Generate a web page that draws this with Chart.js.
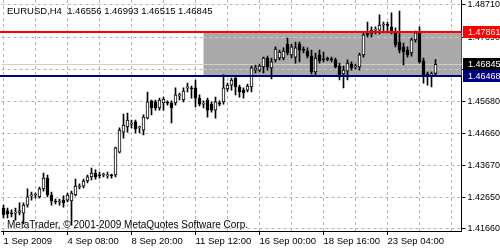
<!DOCTYPE html>
<html>
<head>
<meta charset="utf-8">
<script src="https://cdn.jsdelivr.net/npm/chart.js@4.4.0/dist/chart.umd.min.js"></script>
<style>
  html, body { margin: 0; padding: 0; background: #fff; }
  #wrap { width: 500px; height: 250px; }
</style>
</head>
<body>
<div id="wrap"><canvas id="chart"></canvas></div>
<script>
// ==========================================
// DATA (EURUSD H4)
// ==========================================
const titleText = 'EURUSD,H4  1.46556 1.46993 1.46515 1.46845';
const copyrightText = 'MetaTrader, \u00a9 2001-2009 MetaQuotes Software Corp.';

// one label every 16 bars
const xLabels = ['1 Sep 2009', '4 Sep 08:00', '8 Sep 20:00', '11 Sep 12:00', '16 Sep 00:00', '18 Sep 16:00', '23 Sep 04:00'];
const yTicks = [1.48710, 1.47690, 1.46680, 1.45680, 1.44660, 1.43670, 1.42650, 1.41660];

const opens = [
  1.4232, 1.4223, 1.4216, 1.4216, 1.4219, 1.4216, 1.4241, 1.4270, 1.4273, 1.4267,
  1.4292, 1.4326, 1.4273, 1.4254, 1.4251, 1.4257, 1.4257, 1.4254, 1.4273, 1.4298,
  1.4301, 1.4317, 1.4330, 1.4342, 1.4336, 1.4336, 1.4333, 1.4336, 1.4336, 1.4408,
  1.4471, 1.4487, 1.4496, 1.4503, 1.4484, 1.4477, 1.4515, 1.4569, 1.4566, 1.4547,
  1.4563, 1.4563, 1.4563, 1.4563, 1.4585, 1.4572, 1.4610, 1.4610, 1.4610, 1.4578,
  1.4559, 1.4572, 1.4559, 1.4540, 1.4563, 1.4566, 1.4607, 1.4619, 1.4641, 1.4613,
  1.4603, 1.4603, 1.4613, 1.4666, 1.4666, 1.4676, 1.4704, 1.4673, 1.4698, 1.4704,
  1.4704, 1.4748, 1.4714, 1.4707, 1.4748, 1.4729, 1.4726, 1.4710, 1.4660, 1.4714,
  1.4701, 1.4701, 1.4701, 1.4698, 1.4679, 1.4654, 1.4663, 1.4685, 1.4676, 1.4676,
  1.4714, 1.4783, 1.4780, 1.4792, 1.4792, 1.4808, 1.4808, 1.4802, 1.4786, 1.4754,
  1.4739, 1.4729, 1.4720, 1.4761, 1.4783, 1.4695, 1.4654, 1.4651, 1.46556
];
const highs = [
  1.4241, 1.4232, 1.4226, 1.4232, 1.4248, 1.4248, 1.4292, 1.4282, 1.4279, 1.4298,
  1.4342, 1.4336, 1.4282, 1.4260, 1.4260, 1.4270, 1.4279, 1.4285, 1.4323, 1.4308,
  1.4323, 1.4336, 1.4358, 1.4352, 1.4345, 1.4342, 1.4345, 1.4339, 1.4424, 1.4484,
  1.4528, 1.4531, 1.4509, 1.4509, 1.4490, 1.4525, 1.4597, 1.4572, 1.4572, 1.4578,
  1.4581, 1.4569, 1.4569, 1.4610, 1.4594, 1.4610, 1.4625, 1.4616, 1.4635, 1.4588,
  1.4569, 1.4578, 1.4566, 1.4581, 1.4569, 1.4651, 1.4625, 1.4641, 1.4644, 1.4619,
  1.4610, 1.4622, 1.4679, 1.4682, 1.4685, 1.4707, 1.4710, 1.4704, 1.4739, 1.4729,
  1.4736, 1.4767, 1.4748, 1.4754, 1.4754, 1.4739, 1.4736, 1.4729, 1.4720, 1.4729,
  1.4723, 1.4707, 1.4707, 1.4704, 1.4688, 1.4679, 1.4698, 1.4692, 1.4685, 1.4720,
  1.4786, 1.4817, 1.4802, 1.4802, 1.4840, 1.4817, 1.4817, 1.4846, 1.4799, 1.4852,
  1.4751, 1.4739, 1.4767, 1.4789, 1.4802, 1.4704, 1.4660, 1.4660, 1.46993
];
const lows = [
  1.4201, 1.4201, 1.4204, 1.4194, 1.4210, 1.4182, 1.4235, 1.4257, 1.4263, 1.4263,
  1.4285, 1.4267, 1.4241, 1.4245, 1.4241, 1.4235, 1.4251, 1.4178, 1.4270, 1.4292,
  1.4295, 1.4311, 1.4320, 1.4323, 1.4326, 1.4330, 1.4326, 1.4326, 1.4330, 1.4405,
  1.4452, 1.4471, 1.4484, 1.4468, 1.4468, 1.4462, 1.4512, 1.4525, 1.4540, 1.4540,
  1.4540, 1.4556, 1.4500, 1.4556, 1.4572, 1.4566, 1.4597, 1.4578, 1.4550, 1.4553,
  1.4547, 1.4518, 1.4534, 1.4515, 1.4553, 1.4559, 1.4600, 1.4603, 1.4588, 1.4581,
  1.4578, 1.4597, 1.4597, 1.4657, 1.4660, 1.4657, 1.4666, 1.4638, 1.4692, 1.4698,
  1.4698, 1.4714, 1.4704, 1.4688, 1.4692, 1.4720, 1.4704, 1.4654, 1.4651, 1.4688,
  1.4692, 1.4695, 1.4692, 1.4673, 1.4635, 1.4610, 1.4635, 1.4666, 1.4669, 1.4666,
  1.4707, 1.4770, 1.4770, 1.4780, 1.4780, 1.4783, 1.4783, 1.4780, 1.4739, 1.4720,
  1.4682, 1.4707, 1.4710, 1.4754, 1.4688, 1.4625, 1.4619, 1.4613, 1.46515
];
const closes = [
  1.4210, 1.4213, 1.4213, 1.4219, 1.4223, 1.4241, 1.4267, 1.4273, 1.4274, 1.4292,
  1.4326, 1.4273, 1.4254, 1.4251, 1.4252, 1.4248, 1.4273, 1.4279, 1.4301, 1.4301,
  1.4317, 1.4330, 1.4342, 1.4330, 1.4333, 1.4337, 1.4336, 1.4333, 1.4421, 1.4477,
  1.4493, 1.4509, 1.4497, 1.4481, 1.4485, 1.4518, 1.4566, 1.4547, 1.4547, 1.4572,
  1.4575, 1.4562, 1.4547, 1.4588, 1.4586, 1.4600, 1.4611, 1.4607, 1.4578, 1.4559,
  1.4560, 1.4540, 1.4540, 1.4566, 1.4559, 1.4610, 1.4619, 1.4635, 1.4613, 1.4597,
  1.4594, 1.4616, 1.4673, 1.4673, 1.4679, 1.4704, 1.4676, 1.4692, 1.4732, 1.4723,
  1.4726, 1.4720, 1.4739, 1.4736, 1.4729, 1.4728, 1.4710, 1.4660, 1.4704, 1.4695,
  1.4698, 1.4700, 1.4698, 1.4676, 1.4651, 1.4666, 1.4688, 1.4673, 1.4677, 1.4714,
  1.4777, 1.4777, 1.4792, 1.4795, 1.4808, 1.4811, 1.4807, 1.4783, 1.4745, 1.4729,
  1.4723, 1.4714, 1.4761, 1.4783, 1.4692, 1.4651, 1.4650, 1.4652, 1.46845
];

// horizontal levels and the shaded box
const resistanceLevel = 1.47861;
const supportLevel = 1.46468;
const bidLevel = 1.46845;
const boxStartBar = 50;

// ==========================================
// CONFIG
// ==========================================
const FONT = "'Liberation Sans', Arial, sans-serif";
const SHIFT_SLOTS = 6;          // empty space right of last bar (chart shift)
const GRID_COLOR = '#b4b4b4';

const slots = Array.from({ length: opens.length + SHIFT_SLOTS }, (_, i) => i);
const bodies = opens.map((o, i) => [Math.min(o, closes[i]), Math.max(o, closes[i])]);
const wicks = lows.map((l, i) => [l, highs[i]]);
const bodyColors = opens.map((o, i) => closes[i] >= o ? '#ffffff' : '#000000');

// lines, price boxes and texts drawn on top of the chart
const mtOverlay = {
  id: 'mtOverlay',
  beforeDatasetsDraw(chart) {
    const { ctx, chartArea: a, scales: { x, y } } = chart;
    ctx.save();
    // shaded rectangle between the two levels
    const x0 = x.getPixelForValue(boxStartBar);
    const yTop = Math.round(y.getPixelForValue(resistanceLevel));
    const yBot = Math.round(y.getPixelForValue(supportLevel));
    ctx.fillStyle = '#a9a9a9';
    ctx.fillRect(x0, yTop, a.right - x0, yBot - yTop);
    // grid lines stay visible over the box, lighter
    ctx.strokeStyle = '#c8c8c8';
    ctx.setLineDash([3, 3]);
    ctx.lineWidth = 1;
    yTicks.forEach(v => {
      const py = Math.round(y.getPixelForValue(v)) + 0.5;
      if (py > yTop && py < yBot) {
        ctx.beginPath(); ctx.moveTo(x0, py); ctx.lineTo(a.right, py); ctx.stroke();
      }
    });
    ctx.setLineDash([]);
    // bid line
    const by = Math.round(y.getPixelForValue(bidLevel)) + 0.5;
    ctx.strokeStyle = '#d0d0d0';
    ctx.beginPath(); ctx.moveTo(a.left, by); ctx.lineTo(a.right, by); ctx.stroke();
    ctx.restore();
  },
  afterDatasetsDraw(chart) {
    const { ctx, chartArea: a, scales: { y } } = chart;
    ctx.save();
    const ry = Math.round(y.getPixelForValue(resistanceLevel));
    const sy = Math.round(y.getPixelForValue(supportLevel));
    ctx.fillStyle = '#ff0000';
    ctx.fillRect(0, ry - 1, a.right, 2);
    ctx.fillStyle = '#000080';
    ctx.fillRect(0, sy - 1, a.right, 2);
    ctx.restore();
  },
  afterDraw(chart) {
    const { ctx, chartArea: a, scales: { y } } = chart;
    ctx.save();
    ctx.font = '9px ' + FONT;
    ctx.textBaseline = 'middle';
    const boxes = [
      [bidLevel, '#000000'],
      [resistanceLevel, '#ff0000'],
      [supportLevel, '#000080']
    ];
    boxes.forEach(([v, col]) => {
      const py = Math.round(y.getPixelForValue(v));
      ctx.fillStyle = col;
      ctx.fillRect(Math.ceil(a.right) + 1, py - 6, 40, 12);
      ctx.fillStyle = '#ffffff';
      ctx.fillText(v.toFixed(5), Math.ceil(a.right) + 6, py + 0.5);
    });
    ctx.fillStyle = '#000';
    ctx.textBaseline = 'alphabetic';
    ctx.font = '9.5px ' + FONT;
    ctx.fillText(titleText, 7, 14);
    ctx.font = '10px ' + FONT;
    ctx.fillText(copyrightText, 7, 228);
    ctx.restore();
  }
};

// ==========================================
// CHART
// ==========================================
new Chart(document.getElementById('chart'), {
  type: 'bar',
  data: {
    labels: slots,
    datasets: [
      {
        label: 'body',
        data: bodies,
        order: 0,
        grouped: false,
        barThickness: 3,
        minBarLength: 1,
        borderWidth: 1,
        borderSkipped: false,
        borderColor: '#000',
        backgroundColor: bodyColors
      },
      {
        label: 'wick',
        data: wicks,
        order: 1,
        grouped: false,
        barThickness: 1,
        borderWidth: 0,
        backgroundColor: '#000'
      }
    ]
  },
  options: {
    responsive: true,
    maintainAspectRatio: false,
    animation: false,
    layout: { padding: { left: 1.5, top: 0, right: 0, bottom: 0 }, autoPadding: false },
    plugins: { legend: { display: false }, tooltip: { enabled: false }, title: { display: false } },
    scales: {
      x: {
        type: 'category',
        offset: true,
        grid: {
          offset: false,
          color: c => c.index % 8 === 0 ? GRID_COLOR : 'rgba(0,0,0,0)',
          tickColor: c => (c.index % 16 === 0 && c.index < opens.length) ? '#000' : 'rgba(0,0,0,0)',
          tickLength: 4
        },
        border: { color: '#000', dash: [3, 3] },
        ticks: {
          autoSkip: false,
          maxRotation: 0,
          align: 'start',
          padding: 1,
          color: '#000',
          font: { family: FONT, size: 9.5 },
          callback: (v, i) => i % 16 === 0 ? (xLabels[i / 16] || '') : ''
        },
        afterFit: s => { s.height = 19; s.paddingLeft = 0; s.paddingRight = 0; }
      },
      y: {
        position: 'right',
        min: 1.41596,
        max: 1.48867,
        afterBuildTicks: s => { s.ticks = yTicks.map(v => ({ value: v })); },
        grid: { color: GRID_COLOR, tickColor: '#000', tickLength: 4 },
        border: { color: '#000', dash: [3, 3] },
        ticks: {
          padding: 2,
          color: '#000',
          font: { family: FONT, size: 9 },
          callback: v => Number(v).toFixed(5)
        },
        afterFit: s => { s.width = 38.5; s.paddingTop = 0; s.paddingBottom = 0; }
      }
    }
  },
  plugins: [mtOverlay]
});
</script>
</body>
</html>
